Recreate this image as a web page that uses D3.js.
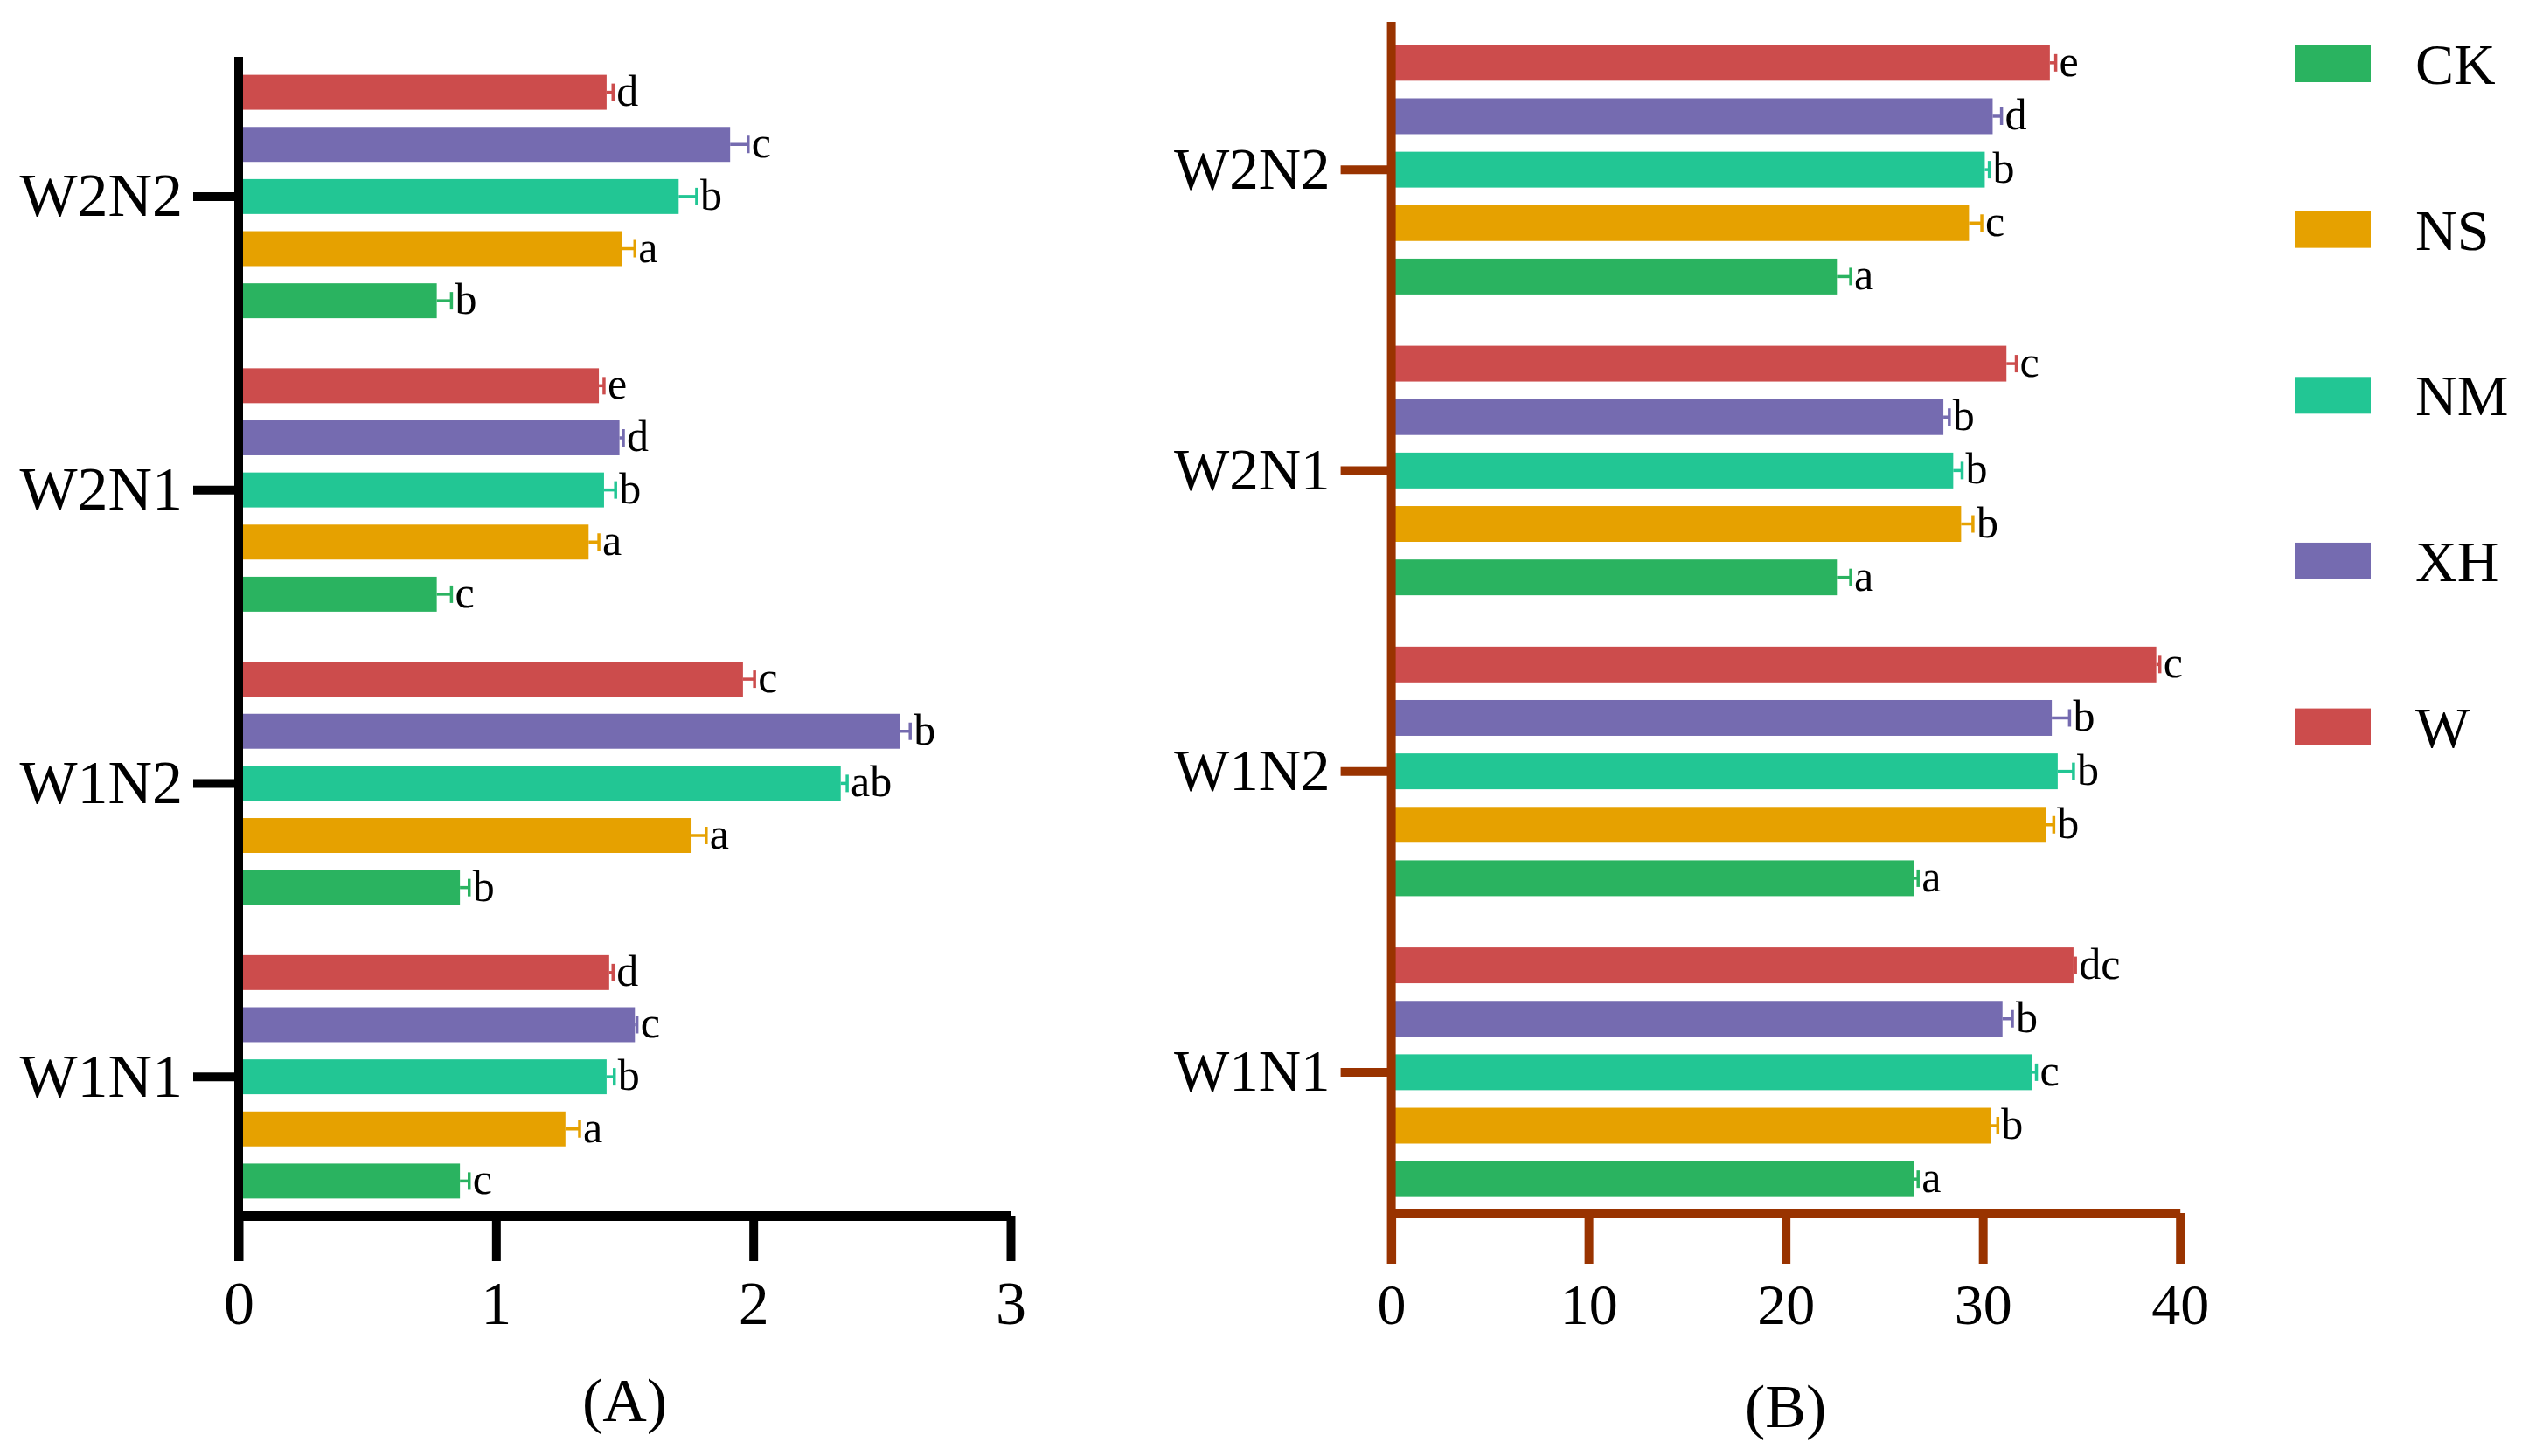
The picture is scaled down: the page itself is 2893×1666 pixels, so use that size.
<!DOCTYPE html>
<html>
<head>
<meta charset="utf-8">
<script src="https://cdn.jsdelivr.net/npm/d3@7"></script>
<style>
  html, body { margin: 0; padding: 0; background: #fff; }
  svg { display: block; }
  text { font-family: "Liberation Serif", "Times New Roman", serif; fill: #000; }
</style>
</head>
<body>
<svg id="chart" width="2893" height="1666"></svg>
<script>
// ---------- DATA ----------
const categories = ["W2N2", "W2N1", "W1N2", "W1N1"];
const series = ["CK", "NS", "NM", "XH", "W"];
const seriesColors = ["#2AB360", "#E6A100", "#22C694", "#756BB0", "#CC4C4C"];

// Panel A values (by category order above)
const aCK = [0.77, 0.77, 0.86, 0.86];
const aNS = [1.49, 1.36, 1.76, 1.27];
const aNM = [1.71, 1.42, 2.34, 1.43];
const aXH = [1.91, 1.48, 2.57, 1.54];
const aW  = [1.43, 1.40, 1.96, 1.44];
const aErrCK = [0.057, 0.057, 0.036, 0.036];
const aErrNS = [0.05, 0.04, 0.057, 0.055];
const aErrNM = [0.07, 0.045, 0.025, 0.03];
const aErrXH = [0.07, 0.015, 0.04, 0.008];
const aErrW  = [0.025, 0.02, 0.045, 0.015];
const aLetCK = ["b", "c", "b", "c"];
const aLetNS = ["a", "a", "a", "a"];
const aLetNM = ["b", "b", "ab", "b"];
const aLetXH = ["c", "d", "b", "c"];
const aLetW  = ["d", "e", "c", "d"];
const aTicks = [0, 1, 2, 3];

// Panel B values
const bCK = [22.6, 22.6, 26.5, 26.5];
const bNS = [29.3, 28.9, 33.2, 30.4];
const bNM = [30.1, 28.5, 33.8, 32.5];
const bXH = [30.5, 28.0, 33.5, 31.0];
const bW  = [33.4, 31.2, 38.8, 34.6];
const bErrCK = [0.7, 0.7, 0.22, 0.22];
const bErrNS = [0.65, 0.6, 0.4, 0.36];
const bErrNM = [0.23, 0.45, 0.8, 0.22];
const bErrXH = [0.45, 0.3, 0.9, 0.5];
const bErrW  = [0.3, 0.5, 0.18, 0.1];
const bLetCK = ["a", "a", "a", "a"];
const bLetNS = ["c", "b", "b", "b"];
const bLetNM = ["b", "b", "b", "c"];
const bLetXH = ["d", "b", "b", "b"];
const bLetW  = ["e", "c", "c", "dc"];
const bTicks = [0, 10, 20, 30, 40];

// ---------- BUILD ROWS ----------
function buildRows(vals, errs, lets) {
  const rows = [];
  categories.forEach((c, ci) => {
    series.forEach((s, si) => {
      rows.push({ cat: c, ser: s, value: vals[si][ci], err: errs[si][ci], letter: lets[si][ci], color: seriesColors[si] });
    });
  });
  return rows;
}
const rowsA = buildRows([aCK, aNS, aNM, aXH, aW], [aErrCK, aErrNS, aErrNM, aErrXH, aErrW], [aLetCK, aLetNS, aLetNM, aLetXH, aLetW]);
const rowsB = buildRows([bCK, bNS, bNM, bXH, bW], [bErrCK, bErrNS, bErrNM, bErrXH, bErrW], [bLetCK, bLetNS, bLetNM, bLetXH, bLetW]);

const svg = d3.select("#chart");

function drawPanel(cfg) {
  const g = svg.append("g");
  const x = d3.scaleLinear().domain(cfg.domain).range(cfg.xRange);
  const y = d3.scaleBand().domain(categories).range(cfg.yRange).paddingInner(0).paddingOuter(0);
  const inner = d3.scaleBand().domain(series.slice().reverse()).range([0, y.bandwidth()])
    .paddingInner(0.33).paddingOuter(0.48);
  const bh = inner.bandwidth();

  // bars
  g.selectAll("rect.bar").data(cfg.rows).join("rect")
    .attr("class", "bar")
    .attr("x", x(0))
    .attr("y", d => y(d.cat) + inner(d.ser))
    .attr("width", d => x(d.value) - x(0))
    .attr("height", bh)
    .attr("fill", d => d.color);

  // error bars
  const eb = g.selectAll("g.err").data(cfg.rows).join("g").attr("class", "err");
  eb.append("line")
    .attr("x1", d => x(d.value)).attr("x2", d => x(d.value + d.err))
    .attr("y1", d => y(d.cat) + inner(d.ser) + bh / 2)
    .attr("y2", d => y(d.cat) + inner(d.ser) + bh / 2)
    .attr("stroke", d => d.color).attr("stroke-width", 3.5);
  eb.append("line")
    .attr("x1", d => x(d.value + d.err)).attr("x2", d => x(d.value + d.err))
    .attr("y1", d => y(d.cat) + inner(d.ser) + bh / 2 - 10)
    .attr("y2", d => y(d.cat) + inner(d.ser) + bh / 2 + 10)
    .attr("stroke", d => d.color).attr("stroke-width", 3.5);

  // significance letters
  g.selectAll("text.sig").data(cfg.rows).join("text")
    .attr("class", "sig")
    .attr("x", d => x(d.value + d.err) + 4)
    .attr("y", d => y(d.cat) + inner(d.ser) + bh / 2 + 15)
    .attr("font-size", 50)
    .text(d => d.letter);

  // x axis
  const xAxis = d3.axisBottom(x).tickValues(cfg.ticks).tickFormat(d3.format("d"))
    .tickSize(cfg.tickLen).tickSizeOuter(0).tickPadding(cfg.tickPad);
  const xg = g.append("g").attr("transform", `translate(0,${cfg.xAxisY})`).call(xAxis);
  xg.select(".domain").attr("stroke", cfg.axisColor).attr("stroke-width", 11);
  xg.selectAll(".tick line").attr("stroke", cfg.axisColor).attr("stroke-width", 10);
  xg.selectAll(".tick text").attr("font-size", cfg.tickFont)
    .attr("font-family", '"Liberation Serif", "Times New Roman", serif').attr("fill", "#000");

  // y axis (band categories)
  const yAxis = d3.axisLeft(y).tickSize(cfg.catTickLen).tickSizeOuter(0).tickPadding(12);
  const yg = g.append("g").attr("transform", `translate(${x(0)},0)`).call(yAxis);
  yg.select(".domain").remove();
  yg.selectAll(".tick line").attr("stroke", cfg.axisColor).attr("stroke-width", 10);
  yg.selectAll(".tick text").attr("font-size", cfg.catFont)
    .attr("font-family", '"Liberation Serif", "Times New Roman", serif').attr("fill", "#000");

  // vertical axis line spanning to tick bottoms
  g.append("line")
    .attr("x1", x(0)).attr("x2", x(0))
    .attr("y1", cfg.yAxisTop).attr("y2", cfg.xAxisY + cfg.tickLen)
    .attr("stroke", cfg.axisColor).attr("stroke-width", 10);

  // panel caption
  g.append("text")
    .attr("x", (x.range()[0] + x.range()[1]) / 2)
    .attr("y", cfg.captionY)
    .attr("text-anchor", "middle")
    .attr("font-size", 70)
    .text(cfg.caption);
}

drawPanel({
  rows: rowsA, domain: [0, 3], xRange: [273, 1156], yRange: [57, 1400],
  ticks: aTicks, xAxisY: 1391, yAxisTop: 65, tickLen: 52, tickPad: 22, tickFont: 70,
  catTickLen: 52, catFont: 70, axisColor: "#000", caption: "(A)", captionY: 1626
});

drawPanel({
  rows: rowsB, domain: [0, 40], xRange: [1591.6, 2493.7], yRange: [22, 1399],
  ticks: bTicks, xAxisY: 1388, yAxisTop: 25, tickLen: 58, tickPad: 22, tickFont: 66,
  catTickLen: 58, catFont: 67, axisColor: "#993300", caption: "(B)", captionY: 1633
});

// legend
const legend = svg.append("g");
const ly = d3.scalePoint().domain(series).range([73, 831.6]);
legend.selectAll("rect").data(series).join("rect")
  .attr("x", 2625).attr("y", d => ly(d) - 21).attr("width", 87).attr("height", 42)
  .attr("fill", (d, i) => seriesColors[i]);
legend.selectAll("text").data(series).join("text")
  .attr("x", 2763).attr("y", d => ly(d) + 23)
  .attr("font-size", 66)
  .text(d => d);
</script>
</body>
</html>
